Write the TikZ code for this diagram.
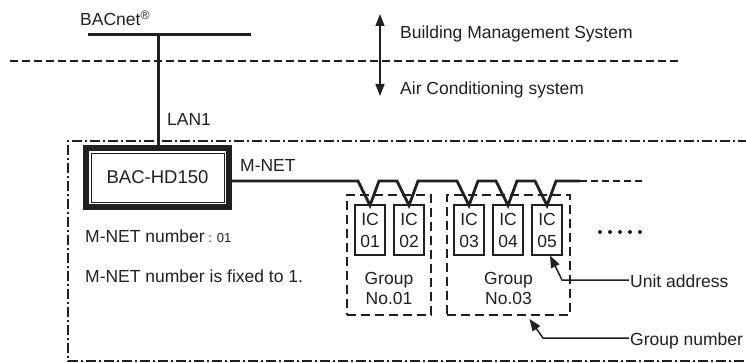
\documentclass[tikz,border=0pt]{standalone}
\usepackage{fontspec}
\setmainfont{Liberation Sans}
\usetikzlibrary{arrows.meta}
\definecolor{ink}{RGB}{35,31,32}
\begin{document}
\begin{tikzpicture}[x=1pt,y=-1pt,
  every node/.style={text=ink},
  txt/.style={font=\fontsize{17.5}{20}\selectfont, inner sep=0pt},
  calltxt/.style={txt, text depth=0pt},
  bus/.style={draw=ink, line width=3pt},
  sepline/.style={draw=ink, line width=1.3pt, dash pattern=on 8pt off 4pt},
  dblarrow/.style={draw=ink, line width=1.5pt, {Triangle[length=12pt,width=9pt]}-{Triangle[length=12pt,width=9pt]}},
  frame/.style={draw=ink, line width=1.2pt, dash pattern=on 10pt off 3pt on 2pt off 3pt},
  ctrl/.style={draw=ink, line width=6pt, minimum width=143pt, minimum height=59pt, font=\fontsize{18.5}{20}\selectfont, inner sep=0pt},
  ic/.style={draw=ink, line width=1.1pt, fill=white, minimum width=30pt, minimum height=50pt, inner sep=0pt, align=center, font=\fontsize{17.5}{22}\selectfont},
  grp/.style={draw=ink, line width=2pt, dash pattern=on 9pt off 5pt, inner sep=0pt},
  net/.style={draw=ink, line width=2.8pt, line join=miter},
  netdash/.style={draw=ink, line width=2.8pt, dash pattern=on 7pt off 4pt},
  call/.style={draw=ink, line width=1.5pt, -{Triangle[length=12pt,width=9pt]}}
]
\useasboundingbox (0,0) rectangle (746,363);

% BACnet bus
\node[txt, anchor=base west] (bacnet) at (80,26) {BACnet\textsuperscript{®}};
\coordinate (busL) at (88,35);
\coordinate (busR) at (251,35);
\coordinate (tap) at (158,35);
\draw[bus] (busL) -- (busR);

% separator and arrow
\coordinate (sepL) at (10,61);
\coordinate (sepR) at (680,61);
\draw[sepline] (sepL) -- (sepR);
\coordinate (arrU) at (380,14);
\coordinate (arrD) at (380,96);
\draw[dblarrow] (arrU) -- (arrD);
\node[txt, anchor=base west] (bms) at (400,39) {Building Management System};
\node[txt, anchor=base west] (acs) at (400,95) {Air Conditioning system};

% outer dash-dot frame
\coordinate (fTR) at (748,141);
\coordinate (fTL) at (68,141);
\coordinate (fBL) at (68,361);
\coordinate (fBR) at (748,361);
\draw[frame] (fTR) -- (fTL) -- (fBL) -- (fBR);

% controller
\node[ctrl] (bac) at (157.5,177.5) {BAC-HD150};
\draw[ink, line width=0.8pt] ([shift={(8pt,-8pt)}]bac.north west) rectangle ([shift={(-8pt,8pt)}]bac.south east);
\draw[bus] (tap) -- (bac.north -| tap);
\node[txt, anchor=base west] (lan) at (167,126) {LAN1};
\node[txt, anchor=base west] (mnet) at (240,172) {M-NET};

\node[txt, anchor=base west] (mnum) at (85,242) {M-NET number{\fontsize{13}{15}\selectfont\ : 01}};
\node[txt, anchor=base west] (mfix) at (85,282) {M-NET number is fixed to 1.};

% groups
\node[grp, minimum width=84pt, minimum height=120pt] (g1) at (389,255) {};
\node[grp, minimum width=123pt, minimum height=120pt] (g2) at (508.5,255) {};
\node[txt, align=center] (g1l) at (389,288) {Group\\No.01};
\node[txt, align=center] (g2l) at (508.5,288) {Group\\No.03};

% indoor units
\node[ic] (ic1) at (370,230) {IC\\01};
\node[ic] (ic2) at (409,230) {IC\\02};
\node[ic] (ic3) at (469,230) {IC\\03};
\node[ic] (ic4) at (508,230) {IC\\04};
\node[ic] (ic5) at (547,230) {IC\\05};

% M-NET line
\coordinate (my) at (0,181);
\coordinate (netEnd) at (580,181);
\coordinate (netDash) at (642,181);
\draw[net] (bac.east |- my)
  -- ([xshift=-12pt]ic1.north |- my) -- ([yshift=-1pt]ic1.north) -- ([xshift=9pt]ic1.north |- my)
  -- ([xshift=-12pt]ic2.north |- my) -- ([yshift=-1pt]ic2.north) -- ([xshift=9pt]ic2.north |- my)
  -- ([xshift=-12pt]ic3.north |- my) -- ([yshift=-1pt]ic3.north) -- ([xshift=9pt]ic3.north |- my)
  -- ([xshift=-12pt]ic4.north |- my) -- ([yshift=-1pt]ic4.north) -- ([xshift=9pt]ic4.north |- my)
  -- ([xshift=-12pt]ic5.north |- my) -- ([yshift=-1pt]ic5.north) -- ([xshift=9pt]ic5.north |- my)
  -- (netEnd);
\draw[netdash] (netEnd) -- (netDash);

% more units dots
\foreach \x in {600,610,620,630,640} \fill[ink] (\x,232) circle (2pt);

% callouts
\node[calltxt, anchor=base west] (ua) at (630,287) {Unit address};
\node[calltxt, anchor=base west] (gn) at (630,345) {Group number};
\coordinate (uaK) at (562,280);
\coordinate (gnK) at (543,338);
\draw[call] ([xshift=-1pt]ua.west |- uaK) -- (uaK) -- ([xshift=3pt]ic5.south);
\draw[call] ([xshift=-1pt]gn.west |- gnK) -- (gnK) -- ([xshift=21pt,yshift=-3pt]g2.south);
\end{tikzpicture}
\end{document}
